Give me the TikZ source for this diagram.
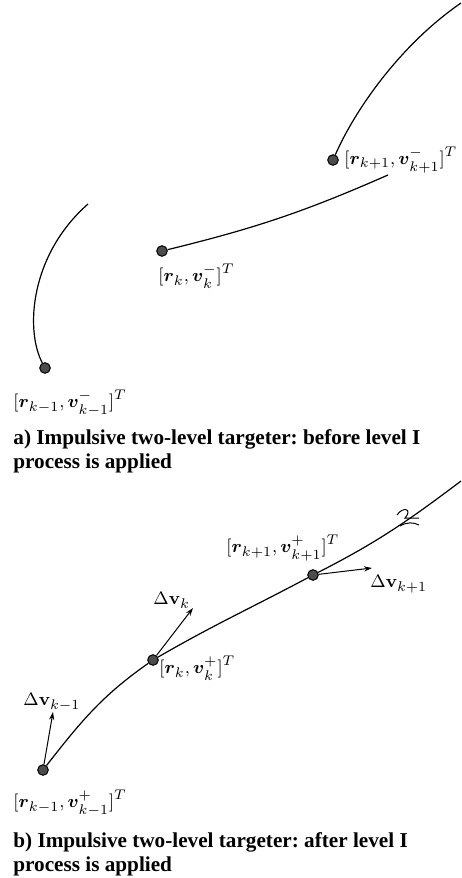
\documentclass[tikz,border=0pt]{standalone}
\usepackage{amsmath}
\usepackage{amssymb}
\usepackage[no-math]{fontspec}
\setmainfont{Liberation Serif}
\usetikzlibrary{arrows.meta}
\frenchspacing
\tikzset{
  pt/.style={circle, draw=black, fill=black!70, line width=0.5pt,
    inner sep=0pt, minimum size=5.3pt},
  traj/.style={line width=0.6pt},
  dv/.style={-{Stealth[length=4pt,width=2.6pt]}, line width=0.5pt},
  lbl/.style={anchor=north west, inner sep=0pt},
  capt/.style={anchor=north west, inner sep=0pt, align=left,
    font=\fontsize{10.6}{12}\selectfont\bfseries}
}
\newcommand{\stvec}[2]{[\boldsymbol{r}_{#1}, \boldsymbol{v}^{#2}_{#1}]^T}

\begin{document}
\begin{tikzpicture}[x=0.5pt, y=-0.5pt, font=\fontsize{9.4}{11}\selectfont]
  \useasboundingbox (0,0) rectangle (461,878);
  % a) before level I
  \node[pt] (a1) at (45,368) {}; \node[pt] (a2) at (162,251) {};
  \node[pt] (a3) at (333,160) {};
  \coordinate (a1s) at (88,204); \coordinate (a2e) at (388,175);
  \coordinate (a3e) at (461,3);
  \draw[traj] (a1s) .. controls (30,255) and (25,330) .. (a1);
  \draw[traj] (a2) to[bend right=5] (a2e);
  \draw[traj] (a3) .. controls (355,110) and (400,45) .. (a3e);
  \node[anchor=west, inner sep=0pt] (la3) at (344,160) {$\stvec{k+1}{-}$};
  \node[lbl] (la2) at (158,264) {$\stvec{k}{-}$};
  \node[lbl] (la1) at (13,390) {$\stvec{k-1}{-}$};
  \node[capt] (capa) at (13,429) {a) Impulsive two-level targeter: before level I\\process is applied};
  % b) after level I
  \node[pt] (b1) at (43,770) {}; \node[pt] (b2) at (153,660) {};
  \node[pt] (b3) at (313,575) {};
  \coordinate (b3e) at (461,481);
  \draw[traj] (b1) to[out=52,in=215] (b2) to[out=30,in=208] (b3)
    to[out=27,in=217] (b3e);
  \coordinate (d1) at (53,712); \coordinate (d2) at (193,608);
  \coordinate (d3) at (372,568);
  \draw[dv] (b1) -- (d1); \draw[dv] (b2) -- (d2); \draw[dv] (b3) -- (d3);
  \draw[line width=0.5pt] (397,515) .. controls (403,506) and (413,509) .. (405,518) -- (419,518);
  \draw[line width=0.5pt] (400,526) .. controls (407,522) and (413,522) .. (419,525);
  \node[lbl] (lb3) at (226,535) {$\stvec{k+1}{+}$};
  \node[lbl] (lb2) at (159,656) {$\stvec{k}{+}$};
  \node[lbl] (lb1) at (13,790) {$\stvec{k-1}{+}$};
  \node[lbl] (ld3) at (370,575) {$\Delta\mathbf{v}_{k+1}$};
  \node[lbl] (ld2) at (153,592) {$\Delta\mathbf{v}_{k}$};
  \node[lbl] (ld1) at (23,693) {$\Delta\mathbf{v}_{k-1}$};
  \node[capt] (capb) at (13,832) {b) Impulsive two-level targeter: after level I\\process is applied};
\end{tikzpicture}
\end{document}
